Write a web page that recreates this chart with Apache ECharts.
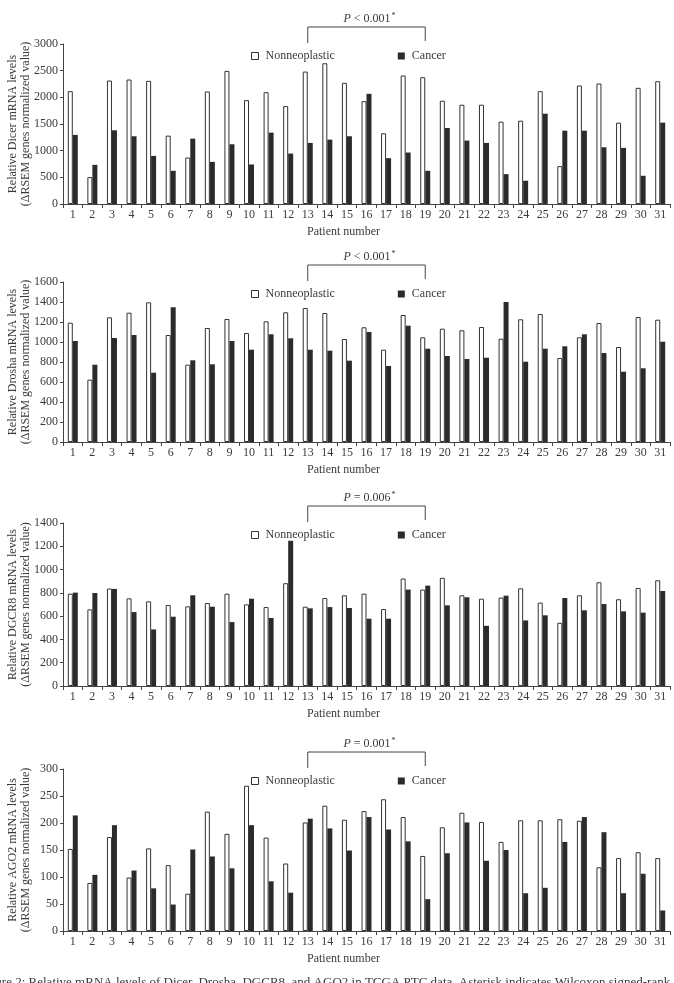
<!DOCTYPE html>
<html>
<head>
<meta charset="utf-8">
<script src="https://cdn.jsdelivr.net/npm/echarts@6/dist/echarts.min.js"></script>
<style>
  html, body { margin: 0; padding: 0; background: #fff; }
  #chart { width: 674px; height: 983px; }
</style>
</head>
<body>
<div id="chart"></div>
<script>
const patients = ['1', '2', '3', '4', '5', '6', '7', '8', '9', '10', '11', '12', '13', '14', '15', '16',
  '17', '18', '19', '20', '21', '22', '23', '24', '25', '26', '27', '28', '29', '30', '31']

const dicerNormal = [2116, 504, 2315, 2334, 2309, 1282, 871, 2110, 2496, 1948, 2097, 1836, 2483, 2639, 2272, 1929,
  1326, 2409, 2378, 1936, 1861, 1861, 1544, 1562, 2116, 710, 2222, 2259, 1525, 2178, 2303]
const dicerCancer = [1295, 734, 1382, 1270, 902, 622, 1226, 790, 1120, 741, 1338, 946, 1145, 1207, 1270, 2066,
  859, 965, 622, 1425, 1189, 1145, 560, 436, 1693, 1375, 1375, 1064, 1052, 529, 1525]

const droshaNormal = [1193, 623, 1247, 1293, 1397, 1070, 773, 1140, 1230, 1090, 1207, 1297, 1340, 1290, 1030, 1147,
  923, 1270, 1047, 1133, 1117, 1150, 1033, 1227, 1280, 840, 1047, 1190, 950, 1250, 1223]
const droshaCancer = [1010, 773, 1040, 1070, 693, 1347, 817, 777, 1010, 923, 1077, 1037, 923, 913, 813, 1100,
  760, 1163, 933, 860, 830, 843, 1400, 803, 933, 957, 1077, 890, 703, 737, 1003]

const dgcr8Normal = [793, 658, 837, 753, 727, 696, 684, 713, 793, 701, 678, 883, 681, 756, 779, 793,
  661, 923, 828, 929, 779, 750, 759, 839, 716, 543, 779, 891, 745, 842, 908]
const dgcr8Cancer = [802, 799, 834, 635, 486, 595, 779, 681, 549, 750, 584, 1248, 667, 678, 670, 578,
  578, 828, 862, 693, 762, 517, 776, 563, 607, 756, 650, 704, 641, 630, 816]

const ago2Normal = [152, 89, 174, 99, 153, 122, 69, 221, 180, 269, 173, 125, 201, 232, 206, 222,
  244, 211, 139, 192, 219, 202, 165, 205, 205, 207, 204, 118, 135, 146, 135]
const ago2Cancer = [214, 104, 196, 112, 79, 49, 151, 138, 116, 196, 92, 71, 208, 190, 149, 211,
  188, 166, 59, 144, 201, 130, 150, 70, 80, 165, 211, 183, 70, 106, 38]

const genes = ['Dicer', 'Drosha', 'DGCR8', 'AGO2']
const normalValues = [dicerNormal, droshaNormal, dgcr8Normal, ago2Normal]
const cancerValues = [dicerCancer, droshaCancer, dgcr8Cancer, ago2Cancer]
const yMax = [3000, 1600, 1400, 300]
const yStep = [500, 200, 200, 50]
// wilcoxon results, bracket spans patients 13..19
const pSigns = ['<', '<', '=', '=']
const pValues = ['0.001', '0.001', '0.006', '0.001']
const bracketFrom = '13'
const bracketTo = '19'

const FONT = '"Liberation Serif", "DejaVu Serif", serif'
const INK = '#3a3a3a'

const panels = [
  { top: 44, height: 160 },
  { top: 282, height: 160 },
  { top: 523, height: 163 },
  { top: 769, height: 162 },
]

const chart = echarts.init(document.getElementById('chart'), null, { renderer: 'canvas' })

function buildOption () {
  const grid = []
  const xAxis = []
  const yAxis = []
  const series = []
  const legend = []

  panels.forEach(({ top, height }, i) => {
    grid.push({ left: 63, right: 4, top, height, containLabel: false, outerBoundsMode: 'none' })
    xAxis.push({
      type: 'category',
      gridIndex: i,
      data: patients,
      axisLine: { lineStyle: { color: '#444', width: 1 } },
      axisTick: { show: true, length: 4, lineStyle: { color: '#444' } },
      axisLabel: { interval: 0, margin: 5, color: INK, fontSize: 12, fontFamily: FONT },
      name: 'Patient number',
      nameLocation: 'middle',
      nameGap: 22,
      nameMoveOverlap: false,
      nameTextStyle: { color: INK, fontSize: 12, fontFamily: FONT, padding: [0, 46, 0, 0] },
    })
    yAxis.push({
      type: 'value',
      gridIndex: i,
      min: 0,
      max: yMax[i],
      interval: yStep[i],
      splitLine: { show: false },
      axisLine: { show: true, lineStyle: { color: '#444', width: 1 } },
      axisTick: { show: true, length: 3, lineStyle: { color: '#444' } },
      axisLabel: { margin: 5, color: INK, fontSize: 12, fontFamily: FONT, formatter: v => String(v) },
      name: `Relative ${genes[i]} mRNA levels\n(ΔRSEM genes normalized value)`,
      nameLocation: 'middle',
      nameRotate: 90,
      nameGap: 31,
      nameMoveOverlap: false,
      nameTextStyle: { color: INK, fontSize: 12, lineHeight: 13, fontFamily: FONT },
    })
    series.push({
      name: 'Nonneoplastic',
      type: 'bar',
      xAxisIndex: i,
      yAxisIndex: i,
      data: normalValues[i],
      barWidth: 5,
      barGap: '0%',
      itemStyle: { color: '#fff', borderColor: '#333', borderWidth: 1 },
      animation: false,
    })
    series.push({
      name: 'Cancer',
      type: 'bar',
      xAxisIndex: i,
      yAxisIndex: i,
      data: cancerValues[i],
      barWidth: 5,
      barGap: '0%',
      itemStyle: { color: '#2b2b2b' },
      animation: false,
    })
    legend.push({
      left: 246,
      top: top + 1,
      itemWidth: 7,
      itemHeight: 7,
      itemGap: 63,
      selectedMode: false,
      textStyle: { color: INK, fontSize: 12, fontFamily: FONT, padding: [0, 0, 0, 2] },
      data: [
        { name: 'Nonneoplastic', icon: 'rect', itemStyle: { color: '#fff', borderColor: '#333', borderWidth: 1 } },
        { name: 'Cancer', icon: 'rect', itemStyle: { color: '#2b2b2b', borderWidth: 0 } },
      ],
    })
  })

  return {
    animation: false,
    backgroundColor: '#fff',
    textStyle: { fontFamily: FONT },
    grid,
    xAxis,
    yAxis,
    legend,
    series,
  }
}

chart.setOption(buildOption())

// brackets and p values, placed on the category scale
function buildGraphic () {
  const elements = []

  panels.forEach(({ top }, i) => {
    const [x1] = chart.convertToPixel({ gridIndex: i }, [bracketFrom, 0])
    const [x2] = chart.convertToPixel({ gridIndex: i }, [bracketTo, 0])
    const lineY = top - 17

    elements.push({
      type: 'polyline',
      shape: { points: [[x1, top - 1], [x1, lineY], [x2, lineY], [x2, top - 3]] },
      style: { stroke: '#444', lineWidth: 1, fill: null },
    })
    elements.push({
      type: 'text',
      x: (x1 + x2) / 2 + 3,
      y: lineY - 8,
      style: {
        text: `{i|P} ${pSigns[i]} ${pValues[i]}{s|*}`,
        align: 'center',
        verticalAlign: 'middle',
        fill: INK,
        font: `12px ${FONT}`,
        rich: {
          i: { fontStyle: 'italic', fontSize: 12, fontFamily: FONT, fill: INK },
          s: { fontSize: 8, fontFamily: FONT, fill: INK, verticalAlign: 'top', padding: [0, 0, 6, 1] },
        },
      },
    })
  })

  elements.push({
    type: 'text',
    x: -22,
    y: 976,
    style: {
      text: 'Figure 2: Relative mRNA levels of Dicer, Drosha, DGCR8, and AGO2 in TCGA PTC data. Asterisk indicates Wilcoxon signed-rank',
      fill: INK,
      font: `13px ${FONT}`,
    },
  })

  return elements
}

chart.setOption({ graphic: buildGraphic() })
</script>
</body>
</html>
